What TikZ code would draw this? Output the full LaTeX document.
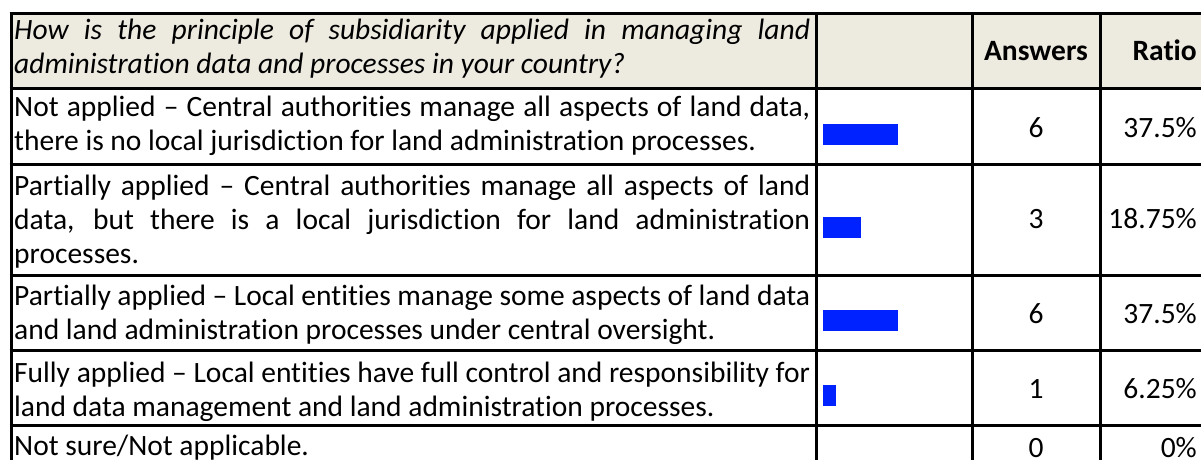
\documentclass[tikz,border=0pt]{standalone}
\usepackage{fontspec}
\setmainfont{Carlito}[Ligatures={NoCommon}]
\definecolor{hdr}{RGB}{237,234,224}
\definecolor{barblue}{RGB}{0,34,255}
\newlength\cw \setlength\cw{796pt}
\newcommand\jline[1]{\hbox to \cw{#1}}
\newcommand\lline[1]{\hbox{#1}}
\newcommand\cellbox[1]{\vtop{\baselineskip=34.2pt #1}}
\begin{document}
\begin{tikzpicture}[x=1pt,y=-1pt,
  grid/.style={line width=3pt},
  txt/.style={anchor=base west, inner sep=0pt, font=\fontsize{29.5}{34.2}\selectfont},
  num/.style={anchor=base, inner sep=0pt, font=\fontsize{29.5}{34.2}\selectfont},
  pct/.style={anchor=base east, inner sep=0pt, font=\fontsize{29.5}{34.2}\selectfont},
  bar/.style={fill=barblue, draw=none}]
\useasboundingbox (0,0) rectangle (1201,459);
\clip (0,0) rectangle (1201,459);
% header background
\fill[hdr] (11,13.5) rectangle (1205,88.5);
% bars
\fill[bar] (823,124) rectangle (898,145);
\fill[bar] (823,217) rectangle (860.5,238);
\fill[bar] (823,310) rectangle (898,331);
\fill[bar] (823,385) rectangle (835.5,406);
% grid lines
\foreach \yy in {13.5,88.5,164,275.5,350.5,425}
  \draw[grid] (9.5,\yy) -- (1210,\yy);
\foreach \xx in {11,816,972,1100}
  \draw[grid] (\xx,12) -- (\xx,470);
% header
\node[txt] (q) at (14,39) {\itshape\cellbox{%
  \jline{How is the principle of subsidiarity applied in managing land}%
  \lline{administration data and processes in your country?}}};
\node[num] (hA) at (1036,60) {\bfseries Answers};
\node[pct] (hR) at (1197,60) {\bfseries Ratio};
% row 1
\node[txt] (r1) at (14,116) {\cellbox{%
  \jline{Not applied – Central authorities manage all aspects of land data,}%
  \lline{there is no local jurisdiction for land administration processes.}}};
\node[num] (a1) at (1036,137) {6};
\node[pct] (p1) at (1197,137) {37.5\%};
% row 2
\node[txt] (r2) at (14,195) {\cellbox{%
  \jline{Partially applied – Central authorities manage all aspects of land}%
  \jline{data, but there is a local jurisdiction for land administration}%
  \lline{processes.}}};
\node[num] (a2) at (1036,228) {3};
\node[pct] (p2) at (1197,228) {18.75\%};
% row 3
\node[txt] (r3) at (14,305) {\cellbox{%
  \jline{Partially applied – Local entities manage some aspects of land data}%
  \lline{and land administration processes under central oversight.}}};
\node[num] (a3) at (1036,323) {6};
\node[pct] (p3) at (1197,323) {37.5\%};
% row 4
\node[txt] (r4) at (14,382) {\cellbox{%
  \jline{Fully applied – Local entities have full control and responsibility for}%
  \lline{land data management and land administration processes.}}};
\node[num] (a4) at (1036,398) {1};
\node[pct] (p4) at (1197,398) {6.25\%};
% row 5
\node[txt] (r5) at (14,455) {Not sure/Not applicable.};
\node[num] (a5) at (1036,457) {0};
\node[pct] (p5) at (1197,457) {0\%};
\end{tikzpicture}
\end{document}
